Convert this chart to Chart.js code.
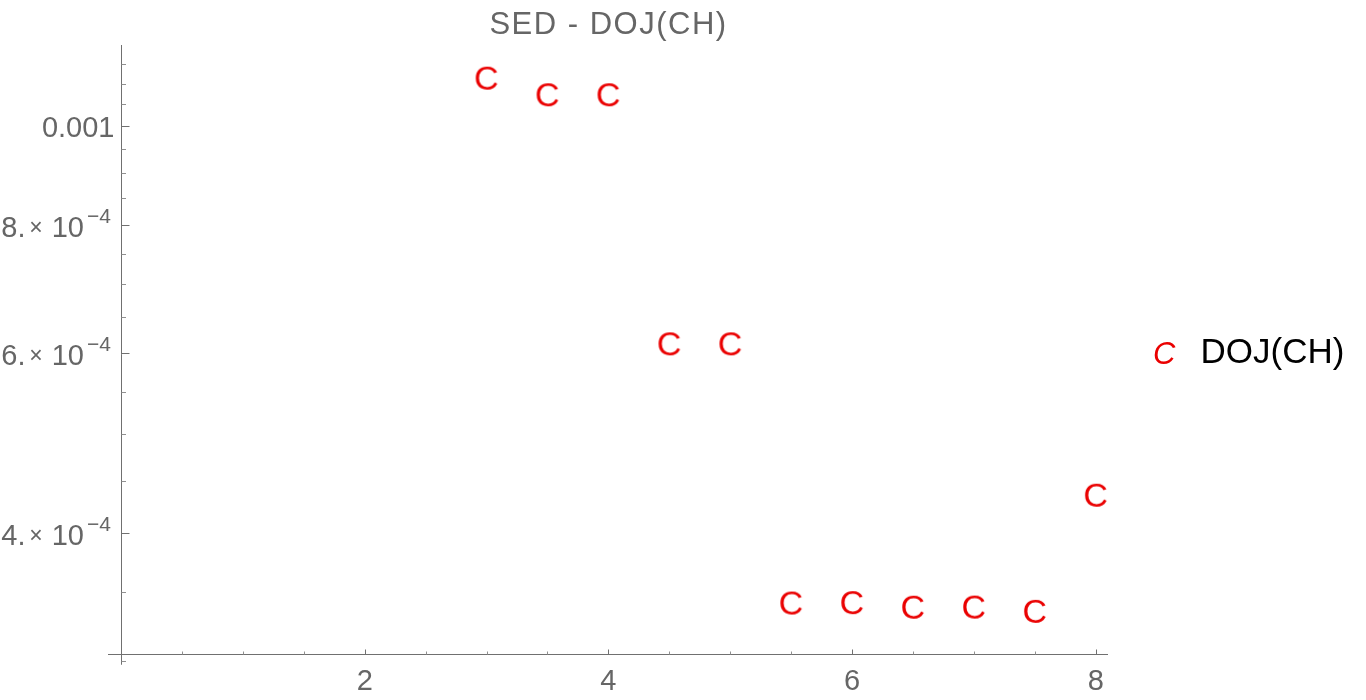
<!DOCTYPE html>
<html><head><meta charset="utf-8">
<script src="https://cdn.jsdelivr.net/npm/chart.js@4/dist/chart.umd.min.js"></script>
<style>html,body{margin:0;padding:0;background:#fff}#wrap{width:1366px;height:700px;position:relative}</style>
</head><body><div id="wrap"><canvas id="c"></canvas></div>
<script>
const chartTitle = 'SED - DOJ(CH)';
const seriesName = 'DOJ(CH)';
const markerGlyph = 'C';
const xValues = [3, 3.5, 4, 4.5, 5, 5.5, 6, 6.5, 7, 7.5, 8];
const yValues = [1.115e-3, 1.074e-3, 1.074e-3, 6.13e-4, 6.13e-4, 3.42e-4, 3.423e-4, 3.388e-4, 3.389e-4, 3.357e-4, 4.36e-4];
const xMajorTicks = [2, 4, 6, 8];
const xMinorTicks = [0.5, 1, 1.5, 2.5, 3, 3.5, 4.5, 5, 5.5, 6.5, 7, 7.5];
const yMajorTicks = [4e-4, 6e-4, 8e-4, 1e-3];
const yMajorMantissa = ['4.', '6.', '8.', '0.001'];
const yMajorExponent = ['−4', '−4', '−4', null];
const yMinorTicks = [3e-4, 3.5e-4, 4.5e-4, 5e-4, 5.5e-4, 6.5e-4, 7e-4, 7.5e-4, 8.5e-4, 9e-4, 9.5e-4, 1.05e-3, 1.1e-3, 1.15e-3];

const RED = '#ea0000';
const GRAY = '#666666';
const FONT = '"Liberation Sans", Arial, sans-serif';

function makeMarker() {
  const c = document.createElement('canvas');
  c.width = 44; c.height = 44;
  const g = c.getContext('2d');
  g.font = '34px ' + FONT;
  g.fillStyle = RED;
  g.textAlign = 'left';
  g.textBaseline = 'alphabetic';
  const m = g.measureText(markerGlyph);
  const L = m.actualBoundingBoxLeft, R = m.actualBoundingBoxRight;
  const A = m.actualBoundingBoxAscent, D = m.actualBoundingBoxDescent;
  const x0 = 22 - (R - L) / 2;
  const y0 = 22 - (D - A) / 2;
  g.fillText(markerGlyph, x0, y0);
  return c;
}
const marker = makeMarker();

const mmaPlugin = {
  id: 'mmaAxes',
  beforeDatasetsDraw(chart) {
    const ctx = chart.ctx, xs = chart.scales.x, ys = chart.scales.y, a = chart.chartArea;
    ctx.save();
    ctx.lineWidth = 1;
    ctx.strokeStyle = '#707070';
    const ax = Math.round(a.left) + 0.5;
    const ay = Math.round(a.bottom) + 0.5;
    const yLow = ys.getPixelForValue(yMinorTicks[0]) + 4;
    ctx.beginPath();
    ctx.moveTo(a.left - 13, ay); ctx.lineTo(a.right, ay);
    ctx.moveTo(ax, a.top); ctx.lineTo(ax, yLow);
    ctx.stroke();
    ctx.beginPath();
    yMajorTicks.forEach(v => { const p = Math.round(ys.getPixelForValue(v)) + 0.5; ctx.moveTo(ax, p); ctx.lineTo(ax + 8, p); });
    ctx.stroke();
    ctx.strokeStyle = '#909090';
    ctx.beginPath();
    yMinorTicks.forEach(v => { const p = Math.round(ys.getPixelForValue(v)) + 0.5; ctx.moveTo(ax, p); ctx.lineTo(ax + 4.5, p); });
    ctx.stroke();
    ctx.strokeStyle = '#707070';
    ctx.beginPath();
    xMajorTicks.forEach(v => { const p = Math.round(xs.getPixelForValue(v)) + 0.5; ctx.moveTo(p, ay); ctx.lineTo(p, ay - 5); });
    ctx.stroke();
    ctx.strokeStyle = '#909090';
    ctx.beginPath();
    xMinorTicks.forEach(v => { const p = Math.round(xs.getPixelForValue(v)) + 0.5; ctx.moveTo(p, ay); ctx.lineTo(p, ay - 3); });
    ctx.stroke();
    ctx.restore();
  },
  afterDraw(chart) {
    const ctx = chart.ctx, xs = chart.scales.x, ys = chart.scales.y, a = chart.chartArea;
    ctx.save();
    ctx.fillStyle = GRAY;
    ctx.textBaseline = 'alphabetic';
    ctx.font = '29px ' + FONT;
    ctx.textAlign = 'center';
    xMajorTicks.forEach(v => {
      ctx.fillText(String(v), xs.getPixelForValue(v), a.bottom + 35.5);
    });
    const R = a.left - 11;
    yMajorTicks.forEach((v, i) => {
      const p = ys.getPixelForValue(v);
      const base = p + 12.4;
      if (yMajorExponent[i] === null) {
        ctx.font = '29px ' + FONT;
        ctx.textAlign = 'right';
        ctx.fillText(yMajorMantissa[i], R + 4.5, p + 10.8);
      } else {
        ctx.font = '21px ' + FONT;
        ctx.textAlign = 'right';
        ctx.fillText(yMajorExponent[i], R + 1, base - 14.4);
        ctx.font = '29px ' + FONT;
        ctx.fillText('10', R - 26, base);
        ctx.font = '23px ' + FONT;
        ctx.textAlign = 'center';
        ctx.fillText('×', R - 74, base - 2);
        ctx.font = '29px ' + FONT;
        ctx.textAlign = 'right';
        ctx.fillText(yMajorMantissa[i], R - 84.5, base);
      }
    });
    // title
    ctx.font = '31px ' + FONT;
    ctx.textAlign = 'center';
    if ('letterSpacing' in ctx) ctx.letterSpacing = '1.5px';
    ctx.fillText(chartTitle, 608.5, 33.5);
    if ('letterSpacing' in ctx) ctx.letterSpacing = '0px';
    // legend
    ctx.font = 'italic 31px ' + FONT;
    ctx.fillStyle = RED;
    ctx.textAlign = 'left';
    ctx.fillText(markerGlyph, 1153, 363.5);
    ctx.font = '35px ' + FONT;
    ctx.fillStyle = '#000000';
    ctx.fillText(seriesName, 1200.5, 362.5);
    ctx.restore();
  }
};

new Chart(document.getElementById('c'), {
  type: 'scatter',
  data: {
    datasets: [{
      label: seriesName,
      data: xValues.map((x, i) => ({ x: x, y: yValues[i] })),
      pointStyle: marker,
      pointRadius: 12,
      pointHoverRadius: 12,
      showLine: false,
      clip: false
    }]
  },
  options: {
    responsive: true,
    maintainAspectRatio: false,
    animation: false,
    events: [],
    layout: { padding: { left: 121, top: 45, right: 258, bottom: 46 } },
    plugins: { legend: { display: false }, title: { display: false }, tooltip: { enabled: false } },
    scales: {
      x: { type: 'linear', min: 0, max: 8.1, display: false },
      y: { type: 'logarithmic', min: 3.046e-4, max: 1.2e-3, bounds: 'data', display: false }
    }
  },
  plugins: [mmaPlugin]
});
</script>
</body></html>
